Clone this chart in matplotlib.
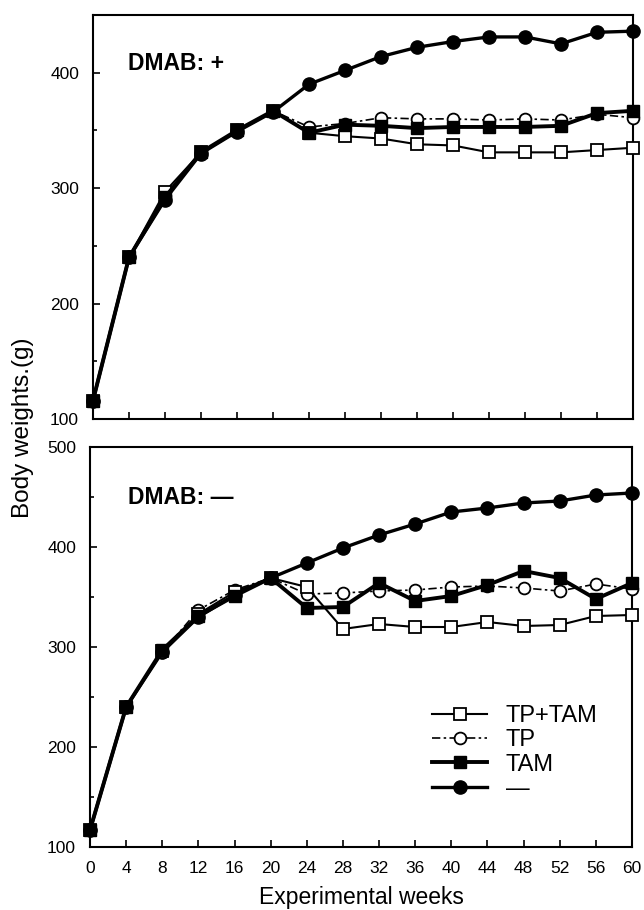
import numpy as np
import matplotlib
matplotlib.use("Agg")
import matplotlib.pyplot as plt
from matplotlib.ticker import MultipleLocator

plt.rcParams["font.family"] = ["Liberation Sans", "DejaVu Sans"]

weeks = [0, 4, 8, 12, 16, 20, 24, 28, 32, 36, 40, 44, 48, 52, 56, 60]

# DMAB: + (upper panel)
top_tptam = [116, 240, 297, 331, 350, 367, 348, 345, 343, 338, 337, 331, 331, 331, 333, 335]
top_tp = [116, 240, 293, 331, 350, 367, 353, 356, 361, 360, 360, 359, 360, 359, 364, 361]
top_tam = [116, 240, 292, 331, 350, 367, 348, 355, 354, 352, 353, 353, 353, 354, 365, 367]
top_ctrl = [116, 240, 290, 330, 349, 366, 390, 402, 414, 422, 427, 431, 431, 425, 435, 436]

# DMAB: - (lower panel)
bot_tptam = [117, 240, 296, 333, 355, 369, 360, 318, 323, 320, 320, 325, 321, 322, 331, 332]
bot_tp = [117, 240, 295, 337, 357, 369, 353, 354, 356, 357, 360, 361, 359, 356, 363, 358]
bot_tam = [117, 240, 297, 331, 351, 369, 339, 340, 364, 346, 351, 362, 376, 369, 348, 364]
bot_ctrl = [117, 240, 295, 330, 352, 369, 384, 399, 412, 423, 435, 439, 444, 446, 452, 454]

labels = ["TP+TAM", "TP", "TAM", "\u2014"]

fig = plt.figure(figsize=(6.44, 9.10), dpi=100)
ax1 = fig.add_axes([93 / 644, 1 - 419 / 910, 540 / 644, 404 / 910])
ax2 = fig.add_axes([90 / 644, 1 - 847 / 910, 542 / 644, 400 / 910])


def draw(ax, tptam, tp, tam, ctrl):
    h_ctrl, = ax.plot(weeks, ctrl, "-o", color="k", lw=2.4, ms=9.5,
                      clip_on=False, zorder=3)
    h_tp, = ax.plot(weeks, tp, marker="o", color="k", lw=1.2,
                    ls=(0, (5, 2, 1.5, 2)), ms=8.5, mfc="white", mew=1.3,
                    clip_on=False, zorder=4)
    h_tptam, = ax.plot(weeks, tptam, "-s", color="k", lw=1.5, ms=8.5,
                       mfc="white", mew=1.3, clip_on=False, zorder=5)
    h_tam, = ax.plot(weeks, tam, "-s", color="k", lw=2.8, ms=8.5,
                     clip_on=False, zorder=6)
    ax.set_xlim(0, 60)
    ax.xaxis.set_major_locator(MultipleLocator(4))
    ax.yaxis.set_major_locator(MultipleLocator(100))
    ax.yaxis.set_minor_locator(MultipleLocator(50))
    ax.tick_params(which="both", direction="in", width=1.2, labelsize=12.5)
    ax.tick_params(which="major", length=5, pad=10)
    ax.tick_params(which="minor", length=3)
    for s in ax.spines.values():
        s.set_linewidth(1.5)
    return [h_tptam, h_tp, h_tam, h_ctrl]


draw(ax1, top_tptam, top_tp, top_tam, top_ctrl)
ax1.set_ylim(100, 450)
ax1.set_yticks([100, 200, 300, 400])
ax1.tick_params(axis="x", labelbottom=False)
ax1.text(0.065, 0.881, "DMAB: +", transform=ax1.transAxes, fontsize=16.5,
         fontweight="bold", va="center", ha="left")

handles = draw(ax2, bot_tptam, bot_tp, bot_tam, bot_ctrl)
ax2.set_ylim(100, 500)
ax2.text(0.07, 0.875, "DMAB: \u2014", transform=ax2.transAxes, fontsize=16.5,
         fontweight="bold", va="center", ha="left")
ax2.set_xlabel("Experimental weeks", fontsize=16.5, labelpad=7)
ax2.legend(handles, labels, loc="upper left", bbox_to_anchor=(0.61, 0.385),
           frameon=False, fontsize=17, handlelength=2.3, handletextpad=0.8,
           labelspacing=0.1, borderpad=0)

fig.text(23 / 644, 1 - 428 / 910, "Body weights.(g)", rotation=90,
         fontsize=17.5, ha="center", va="center")

fig.savefig("out.png", dpi=100)
